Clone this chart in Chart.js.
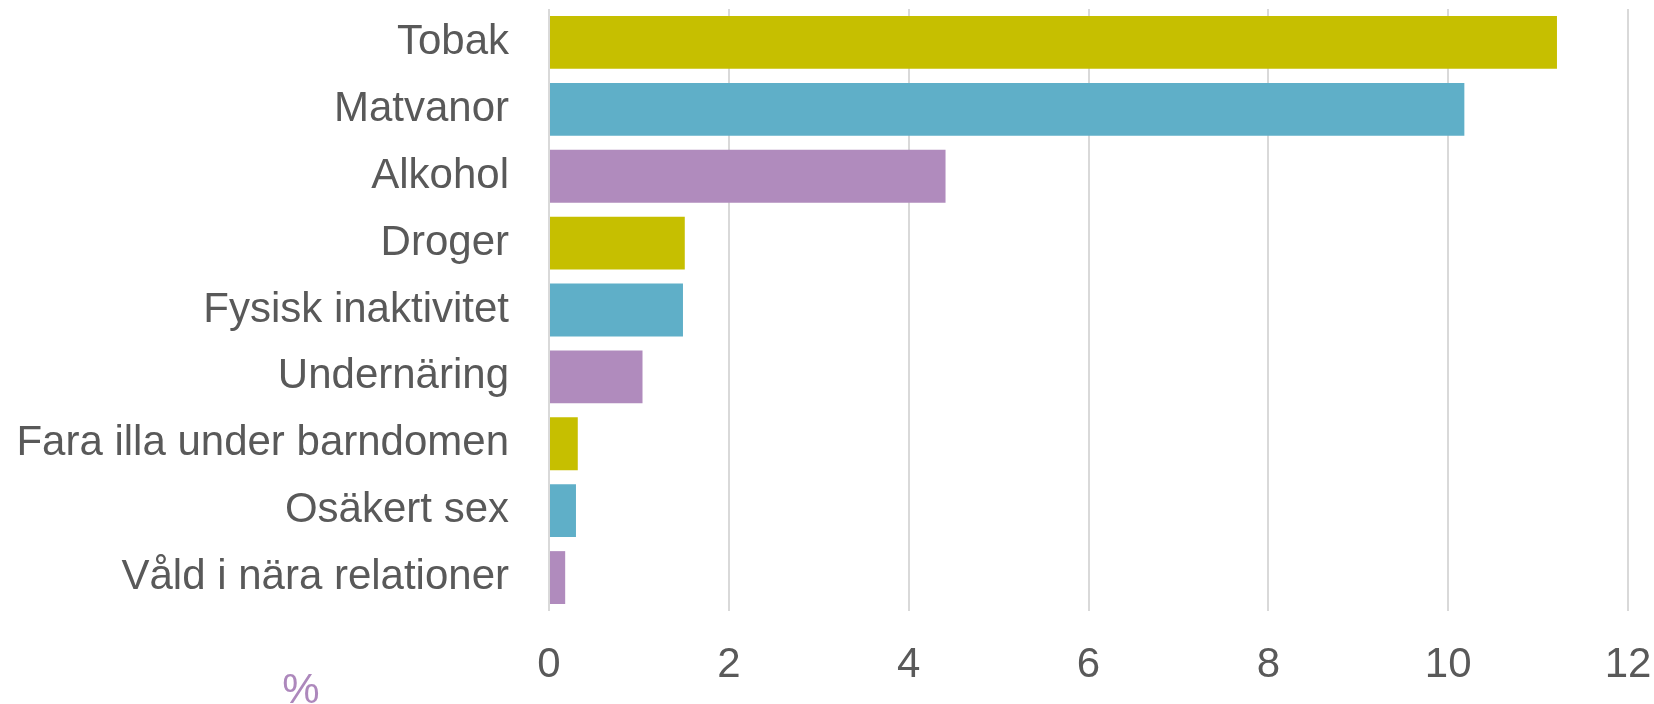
<!DOCTYPE html>
<html lang="sv">
<head>
<meta charset="utf-8">
<title>Riskfaktorer</title>
<script src="https://cdn.jsdelivr.net/npm/chart.js@4/dist/chart.umd.min.js"></script>
<style>
  html, body { margin: 0; padding: 0; background: #fff; }
  #wrap { width: 1654px; height: 704px; position: relative; }
</style>
</head>
<body>
<div id="wrap"><canvas id="grafico"></canvas></div>
<script>
const kategorier = [
    "Tobak",
    "Matvanor",
    "Alkohol",
    "Droger",
    "Fysisk inaktivitet",
    "Undernäring",
    "Fara illa under barndomen",
    "Osäkert sex",
    "Våld i nära relationer"
];
const andelar = [11.21, 10.18, 4.41, 1.51, 1.49, 1.04, 0.32, 0.30, 0.18];
const enhet = "%";

// gul, blå, lila upprepas nedåt
const farger = ["#c6bf00", "#5fafc8", "#b08bbd"];
const textfarg = "#595959";
const typsnitt = "'Liberation Sans', Arial, sans-serif";

// skriver ut enheten nere till vänster
const enhetPlugin = {
    id: 'enhet',
    afterDraw(chart) {
        const c = chart.ctx;
        c.save();
        c.font = "42px " + typsnitt;
        c.fillStyle = "#ad88bc";
        c.textAlign = "center";
        c.textBaseline = "alphabetic";
        c.fillText(enhet, 301, 703);
        c.restore();
    }
};

const ctx = document.getElementById('grafico').getContext('2d');

new Chart(ctx, {
    type: 'bar',
    data: {
        labels: kategorier,
        datasets: [{
            data: andelar,
            backgroundColor: kategorier.map((_, i) => farger[i % 3]),
            borderWidth: 0,
            barPercentage: 0.79,
            categoryPercentage: 1
        }]
    },
    options: {
        indexAxis: 'y',
        responsive: true,
        maintainAspectRatio: false,
        animation: false,
        layout: {
            padding: { top: 9, right: 26, bottom: 0, left: 0 }
        },
        plugins: {
            legend: { display: false },
            tooltip: { enabled: false }
        },
        scales: {
            x: {
                min: 0,
                max: 12,
                ticks: {
                    stepSize: 2,
                    color: textfarg,
                    padding: 29,
                    font: { family: typsnitt, size: 42 }
                },
                grid: {
                    color: '#d9d9d9',
                    lineWidth: 2,
                    drawTicks: false
                },
                border: { display: false },
                afterFit: s => {
                    s.height = 93;
                    s.paddingLeft = 0;
                    s.paddingRight = 0;
                }
            },
            y: {
                ticks: {
                    color: textfarg,
                    padding: 40,
                    font: { family: typsnitt, size: 42 }
                },
                grid: { display: false, drawTicks: false },
                border: { display: false },
                afterFit: s => {
                    s.width = 549;
                    s.paddingTop = 0;
                    s.paddingBottom = 0;
                }
            }
        }
    },
    plugins: [enhetPlugin]
});
</script>
</body>
</html>
